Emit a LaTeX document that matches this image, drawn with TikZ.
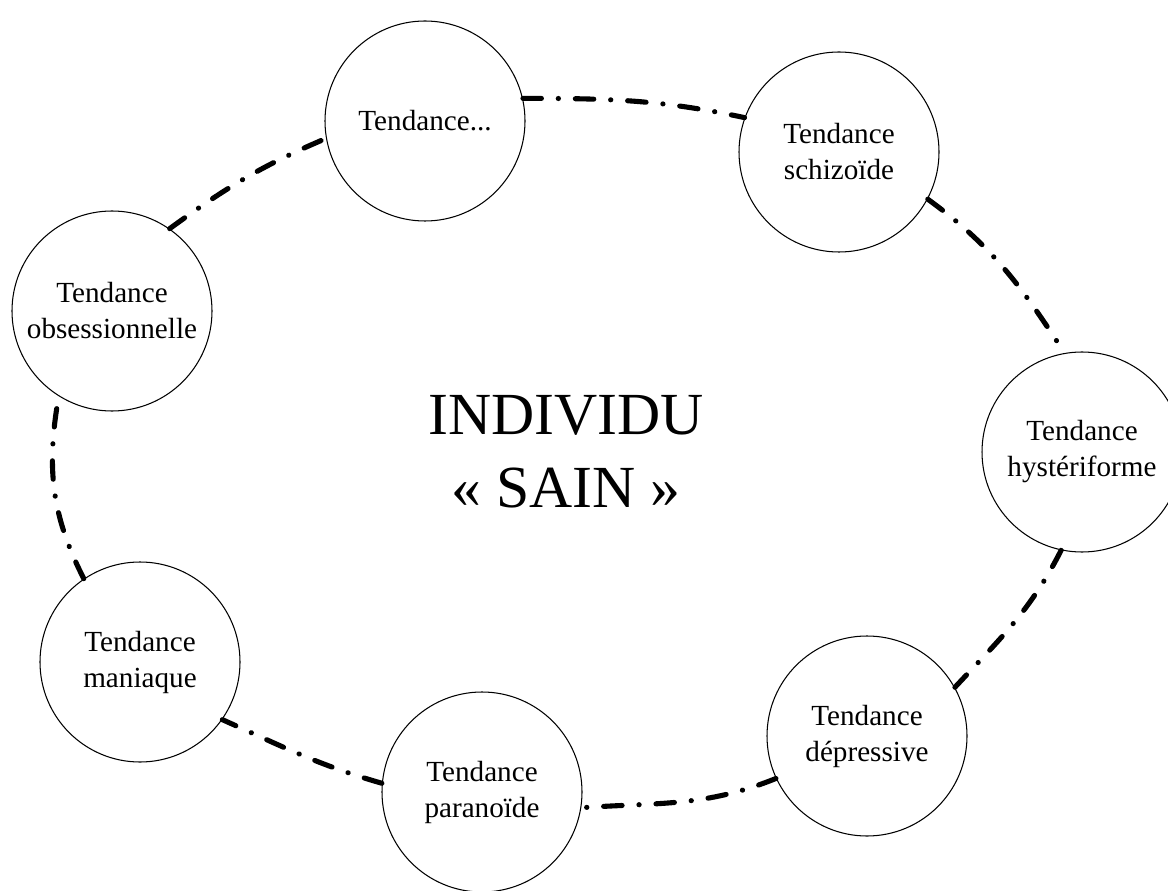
\documentclass[tikz,border=0pt]{standalone}
\usepackage{fontspec}
\setmainfont{Liberation Serif}
\begin{document}
\begin{tikzpicture}[tend/.style={draw, circle, line width=0.6pt, minimum size=4cm, inner sep=0pt, align=center, font=\fontsize{16.6}{20.5}\selectfont},
    lien/.style={line width=2.9pt, line cap=round, dash pattern=on 10.5pt off 9.6pt on 0.1pt off 9.6pt}]
    \useasboundingbox (0,0) rectangle (23.36,-17.82);
    \node[tend] (tend) at (8.50,-2.42) {Tendance...};
    \node[tend] (schizo) at (16.78,-3.04) {Tendance\\schizoïde};
    \node[tend] (hyst) at (21.64,-9.04) {Tendance\\hystériforme};
    \node[tend] (depr) at (17.34,-14.72) {Tendance\\dépressive};
    \node[tend] (para) at (9.64,-15.84) {Tendance\\paranoïde};
    \node[tend] (mani) at (2.80,-13.24) {Tendance\\maniaque};
    \node[tend] (obse) at (2.24,-6.22) {Tendance\\obsessionnelle};
    \node[align=center, font=\fontsize{34}{41.4}\selectfont] (sain) at (11.32,-9.04) {INDIVIDU\\« SAIN »};
    \draw[lien] (tend.13) to[out=0, in=168] (schizo.160);
    \draw[lien] (schizo.-28) to[out=-36, in=123] (hyst.100);
    \draw[lien] (hyst.-102) to[out=-117, in=47] (depr.29);
    \draw[lien] (depr.-155) to[out=-158, in=4] (para.-9);
    \draw[lien] (para.175) to[out=164, in=-24] (mani.-35);
    \draw[lien] (mani.124) to[out=117, in=-100] (obse.-122);
    \draw[lien] (obse.55) to[out=36, in=-157] (tend.190);
\end{tikzpicture}
\end{document}
